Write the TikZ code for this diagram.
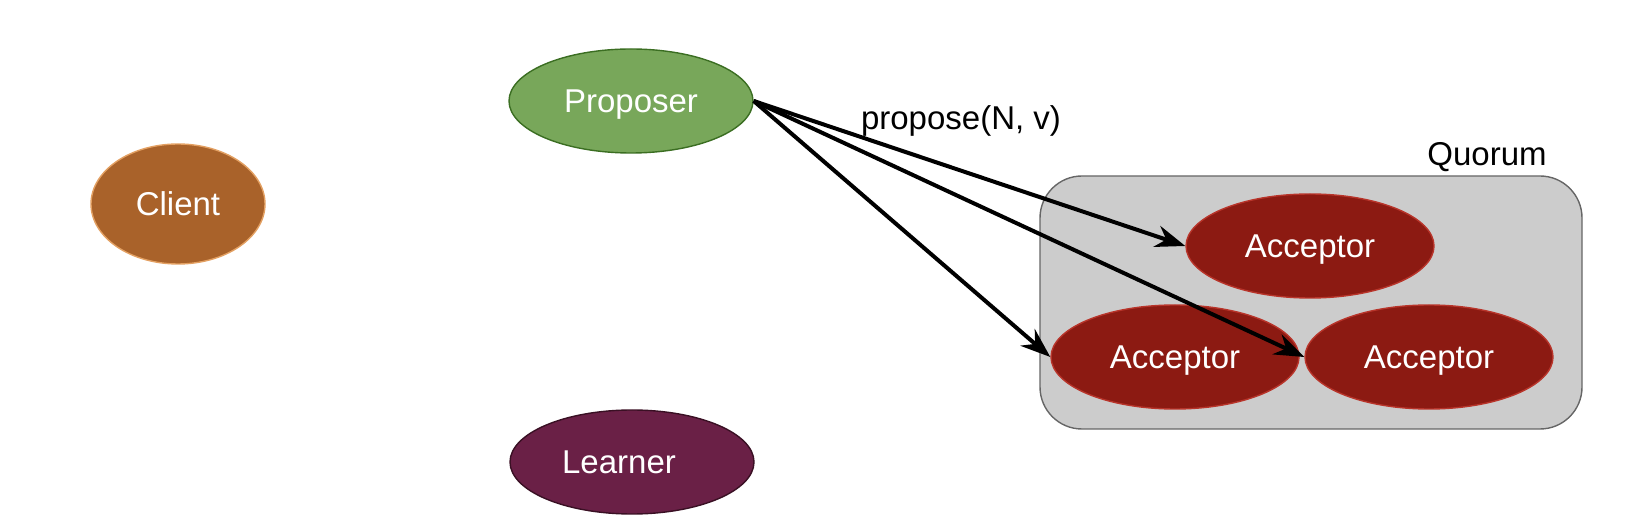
\documentclass[tikz,border=0pt]{standalone}
\usepackage{fontspec}
\setmainfont{Liberation Sans}
\usetikzlibrary{shapes.geometric,arrows.meta}

\definecolor{clientfill}{HTML}{A9622A}
\definecolor{clientline}{HTML}{E3A062}
\definecolor{propfill}{HTML}{78A75A}
\definecolor{propline}{HTML}{3B6E22}
\definecolor{learnfill}{HTML}{6A2046}
\definecolor{learnline}{HTML}{3A1024}
\definecolor{accfill}{HTML}{8C1A12}
\definecolor{accline}{HTML}{B8342A}
\definecolor{quorumfill}{HTML}{CCCCCC}
\definecolor{quorumline}{HTML}{666666}

\tikzset{
  label text/.style={font=\fontsize{16.5}{18}\selectfont,
    text height=14.9pt, text depth=3.5pt, inner sep=0pt},
  role/.style={ellipse, label text, line width=0.7pt, text=white},
  acceptor/.style={role, fill=accfill, draw=accline,
    minimum width=124pt, minimum height=52pt},
  msg/.style={line width=2pt, -{Stealth[length=15pt, width=11pt, inset=5pt]}}
}

\begin{document}
\begin{tikzpicture}[x=0.5pt, y=-0.5pt]
\useasboundingbox (0,0) rectangle (1642,528);

% quorum group
\draw[fill=quorumfill, draw=quorumline, line width=0.7pt, rounded corners=21pt]
  (1040,176) rectangle (1582,429);
\node[label text] (Q) at (1487,154) {Quorum};

\node[role, fill=clientfill, draw=clientline, minimum width=87pt, minimum height=60pt]
  (C) at (178,204) {Client};
\node[role, fill=propfill, draw=propline, minimum width=122pt, minimum height=52pt]
  (P) at (631,101) {Proposer};
\node[role, fill=learnfill, draw=learnline, minimum width=122pt, minimum height=52pt]
  (L) at (632,462) {\hspace*{-13pt}Learner};

\node[acceptor] (A1) at (1310,246) {Acceptor};
\node[acceptor] (A2) at (1175,357) {Acceptor};
\node[acceptor] (A3) at (1429,357) {Acceptor};

\draw[msg] (P.east) to (A1.west);
\draw[msg] (P.east) to (A2.west);
\draw[msg] (P.east) to (A3.west);
\node[label text] (N) at (961,118) {propose(N, v)};

\end{tikzpicture}
\end{document}
